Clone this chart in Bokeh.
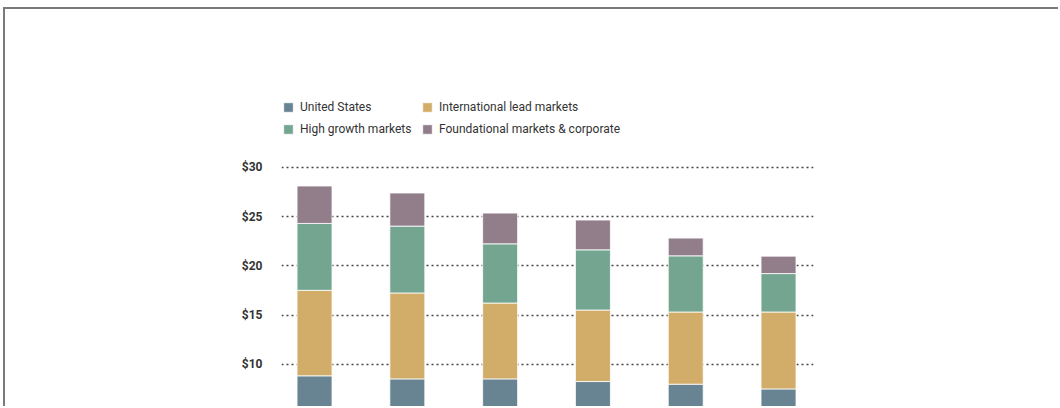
from bokeh.plotting import figure
from bokeh.models import ColumnDataSource, Range1d, FixedTicker, NumeralTickFormatter, Legend
from bokeh.embed import file_html
from bokeh.resources import INLINE

# ---- data ----
periods = ["P1", "P2", "P3", "P4", "P5", "P6"]
series = ["United States", "International lead markets", "High growth markets",
          "Foundational markets & corporate"]
united_states = [8.85, 8.54, 8.54, 8.27, 8.00, 7.52]
international_lead = [8.68, 8.72, 7.70, 7.26, 7.33, 7.81]
high_growth = [6.79, 6.79, 6.01, 6.11, 5.70, 3.90]
foundational = [3.80, 3.36, 3.12, 3.02, 1.80, 1.77]
y_ticks = [5, 10, 15, 20, 25, 30]

colors = ["#688492", "#d2ad69", "#74a590", "#927e8b"]
FONT = "Roboto"

keys = ["us", "intl", "hg", "fm"]
src = ColumnDataSource(dict(x=list(range(len(periods))), us=united_states,
                            intl=international_lead, hg=high_growth, fm=foundational))

W, H = 1055, 399
p = figure(width=W, height=H, output_backend="svg", toolbar_location=None,
           x_range=Range1d(-0.356, 5.377), y_range=Range1d(5.533, 36.90),
           min_border_left=276, min_border_right=W - 808,
           min_border_top=90, min_border_bottom=0)
p.styles = {"border-top": "2px solid #7a7a7a", "border-left": "2px solid #7a7a7a",
            "margin-top": "7px", "margin-left": "3px"}

renderers = p.vbar_stack(keys, x="x", width=0.377, source=src, color=colors,
                         line_color="white", line_width=0.8)

p.outline_line_color = None
p.xaxis.visible = False
p.xgrid.visible = False
p.ygrid.ticker = FixedTicker(ticks=y_ticks)
p.ygrid.grid_line_color = "#444444"
p.ygrid.grid_line_dash = "2 3"
p.ygrid.grid_line_width = 1.3

ax = p.yaxis[0]
ax.ticker = FixedTicker(ticks=y_ticks)
ax.formatter = NumeralTickFormatter(format="$0")
ax.axis_line_color = None
ax.major_tick_line_color = None
ax.minor_tick_line_color = None
ax.major_label_standoff = 13
ax.major_label_text_font = FONT
ax.major_label_text_font_size = "12px"
ax.major_label_text_font_style = "bold"
ax.major_label_text_color = "#333333"

legend = Legend(items=[(series[i], [renderers[i]]) for i in range(4)],
                location="top_left", ncols=2, orientation="horizontal")
legend.border_line_color = None
legend.background_fill_alpha = 0
legend.margin = 1
legend.padding = 6
legend.spacing = 8
legend.glyph_width = 12
legend.glyph_height = 12
legend.label_standoff = 6
legend.label_width = 113
legend.label_text_font = FONT
legend.label_text_font_size = "12px"
legend.label_text_color = "#333333"
p.add_layout(legend, "center")

open("out.html", "w").write(file_html(p, INLINE))
